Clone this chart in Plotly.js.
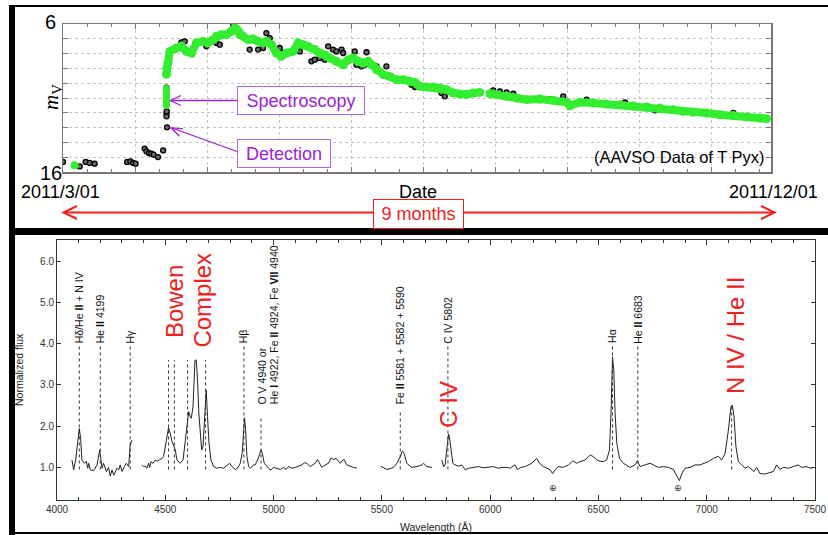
<!DOCTYPE html>
<html><head><meta charset="utf-8">
<script src="https://cdn.plot.ly/plotly-3.0.1.min.js"></script>
<style>html,body{margin:0;padding:0;background:#fff;}#chart{width:828px;height:535px;}</style>
</head><body><div id="chart"></div>
<script>
// ---------- Light curve (days since 2011/3/01, V magnitude) ----------
const lcBlackDay = [0, 6.5, 8.8, 10.4, 12.3, 24.9, 26.2, 27.2, 28.2, 31.7, 32.4, 33.4, 34.3, 35.2, 36.9, 38.9, 40.4, 40.2, 40.2, 40.3, 40.2,
  46.0, 47.3, 55.7, 59.6, 60.9, 66.1, 72.5, 75.8, 77.7, 79.0, 80.3, 84.2, 85.5, 92.0, 96.5, 97.8, 99.7, 101.7, 103.0, 104.9, 106.2, 108.2, 108.8,
  113.3, 114.0, 115.9, 117.2, 117.9, 121.8, 125.6, 135.4, 136.7, 147.0, 148.3, 167.1, 169.7, 172.3, 174.9, 185.2, 189.1, 194.3, 203.4, 216.3, 218.3, 229.9, 260.4];
const lcBlackMag = [15.32, 15.62, 15.32, 15.39, 15.44, 15.32, 15.28, 15.39, 15.44, 14.42, 14.60, 14.72, 14.76, 14.83, 14.99, 14.54, 12.98, 12.01, 12.24, 11.90, 10.30,
  7.24, 7.17, 7.51, 7.28, 7.40, 6.00, 7.73, 7.73, 7.62, 6.61, 6.95, 7.62, 7.96, 7.85, 8.52, 8.41, 8.30, 8.41, 7.51, 7.73, 7.85, 7.73, 7.96,
  7.85, 8.75, 8.86, 8.75, 7.91, 8.86, 8.86, 10.10, 10.26, 10.66, 10.89, 10.48, 10.55, 10.62, 10.71, 11.00, 11.07, 10.89, 11.11, 11.52, 11.29, 11.83, 12.01];
const lcGreenDay = [40.2, 40.3, 40.8, 41.5, 44.0, 46.0, 47.9, 49.9, 51.8, 54.4, 56.3, 58.3, 59.6, 61.5, 63.5, 65.4, 66.7, 67.6, 68.7, 69.9,
  71.9, 73.8, 75.8, 77.7, 79.0, 81.0, 82.9, 84.8, 86.8, 89.4, 91.3, 93.3, 95.2, 97.8, 99.7, 101.7, 103.6, 106.2, 108.8, 110.8,
  112.7, 114.6, 116.6, 118.5, 119.8, 121.8, 124.4, 126.9, 129.5, 132.1, 134.7, 136.7, 138.6, 141.2, 143.8, 146.4, 149.0, 151.6, 154.1, 156.7,
  159.3, 161.9, null, 165.8, 168.4, 172.3, 176.2, 180.1, 185.2, 190.4, 195.6, 196.9, 200.8, 206.0, 211.1, 216.3, 221.5, 226.7, 231.9, 237.0, 240.9,
  244.8, 250.0, 255.2, 260.4, 265.5, 270.7, 273.3];
const lcGreenMag = [9.40, 9.00, 8.60, 7.85, 7.62, 7.51, 7.85, 7.96, 7.28, 7.17, 7.28, 7.06, 6.83, 6.72, 6.72, 6.50, 6.27, 6.38, 6.72, 6.83,
  7.06, 7.01, 7.17, 7.28, 7.17, 7.40, 7.96, 8.18, 7.96, 7.85, 7.28, 7.40, 7.51, 7.73, 7.96, 8.07, 8.30, 8.52, 8.75, 8.41,
  8.30, 8.52, 8.64, 8.52, 8.75, 9.09, 9.42, 9.54, 9.76, 9.76, 9.87, 9.95, 10.21, 10.26, 10.26, 10.32, 10.44, 10.66, 10.73, 10.77,
  10.66, 10.62, null, 10.71, 10.77, 10.89, 11.00, 11.11, 11.07, 11.16, 11.29, 11.52, 11.29, 11.34, 11.41, 11.45, 11.52, 11.61, 11.68, 11.79, 11.90,
  11.97, 12.01, 12.13, 12.19, 12.28, 12.35, 12.40];
const lcSpecDay = [40.2, 40.2, 40.2, 40.2, 40.2];
const lcSpecMag = [10.35, 10.6, 10.9, 11.2, 11.5];
const lcEarlyDay = [4.5];
const lcEarlyMag = [15.55];

// ---------- Spectrum ----------
const specWave = [4069,4077,4086,4094,4103,4109,4115,4126,4135,4142,4146,4154,4169,4185,4191,4197,4203,4208,4215,4228,4238,4246,4254,4262,4277,4285,4292,4300,4311,4320,4331,4338,4346,
  null,
  4392,4400,4408,4415,4423,4428,4434,4443,4454,4462,4474,4485,4492,4500,4508,4515,4523,4531,4538,4546,4554,4562,4569,4582,4589,4597,4603,4608,4615,4620,4628,4632,4637,4643,4649,4655,4662,4668,4674,4680,4686,4689,4695,4702,4711,4723,4738,4754,4769,4785,4797,4808,4823,4834,4846,4855,4863,4866,4871,4877,4885,4892,4908,4915,4926,4935,4942,4948,4957,4977,4988,5000,5015,5031,5046,5058,5069,5085,5100,5115,5131,5142,5154,5169,5192,5203,5212,5223,5238,5254,5265,5277,5289,5300,5308,5320,5326,5338,5354,5369,5385,
  null,
  5495,5508,5523,5538,5554,5569,5585,5595,5603,5615,5638,5662,5685,5692,5708,5731,
  null,
  5777,5785,5792,5800,5808,5812,5820,5828,5838,5854,5869,5885,5900,5923,5946,5969,5992,6015,6038,6054,6077,6092,6115,6126,6142,6162,6192,6215,6228,6246,6262,6277,6288,6300,6315,6338,6362,6382,6400,6415,6438,6462,6477,6492,6508,6523,6538,6551,6558,6565,6571,6577,6585,6597,6615,6646,6669,6680,6692,6715,6738,6754,6777,6800,6823,6846,6865,6874,6885,6900,6923,6946,6969,6985,7008,7031,7054,7069,7085,7100,7112,7118,7126,7135,7146,7162,7177,7192,7208,7218,7231,7246,7269,7292,7308,7323,7338,7354,7377,7400,7423,7438,7462,7477,7500];
const specFlux = [1.18,0.94,1.18,1.58,1.94,1.70,1.18,1.10,1.15,0.98,1.10,0.94,0.92,1.06,1.26,1.42,1.18,0.98,1.10,0.90,1.00,0.79,0.94,0.81,0.98,0.94,1.06,0.90,1.02,1.10,1.02,1.54,1.66,
  null,
  1.06,1.02,1.03,0.98,1.10,1.00,1.14,1.10,1.18,1.15,1.19,1.22,1.26,1.50,1.82,1.96,1.82,1.62,1.54,1.42,1.18,1.14,1.10,1.18,1.50,1.90,2.23,2.35,2.23,2.19,2.47,3.11,3.60,3.60,3.11,2.31,1.66,1.42,1.50,2.06,2.87,2.87,2.23,1.58,1.18,1.02,0.98,1.00,0.98,1.06,1.10,1.02,0.95,0.98,1.10,1.34,2.02,2.20,1.90,1.26,1.02,0.98,1.06,1.06,1.18,1.34,1.42,1.34,1.10,0.98,0.94,1.00,0.98,0.95,1.00,0.95,1.02,0.98,1.00,1.02,1.06,1.11,1.10,1.02,1.10,1.19,1.10,1.00,1.06,1.10,1.23,1.19,1.22,1.14,1.10,1.18,1.19,1.06,1.02,1.00,0.98,
  null,
  1.03,1.00,0.95,0.97,1.00,1.10,1.26,1.40,1.34,1.10,1.00,1.02,1.06,1.10,1.02,1.00,
  null,
  1.18,1.02,1.06,1.50,1.81,1.74,1.34,1.10,1.06,1.03,1.06,0.94,0.98,1.00,1.02,0.99,1.00,1.02,0.98,1.00,1.00,0.98,1.06,0.95,1.00,1.02,1.10,1.22,1.10,1.02,0.98,0.94,0.85,0.94,1.02,1.00,1.06,1.16,1.10,1.14,1.18,1.30,1.26,1.18,1.15,1.14,1.18,1.42,2.31,3.68,3.35,2.31,1.58,1.22,1.10,1.00,1.06,1.16,1.02,1.06,1.10,1.06,1.00,1.02,1.00,0.95,0.77,0.68,0.85,0.98,1.00,1.06,1.06,1.10,1.14,1.22,1.27,1.18,1.34,1.90,2.47,2.51,2.23,1.50,1.14,1.06,0.98,1.02,0.95,0.90,1.00,0.85,0.84,0.87,0.90,1.06,0.95,1.00,0.98,1.02,1.06,1.00,1.02,0.98,1.00];

// line identifications: wavelength, top of dotted marker
const lineWave = [4103, 4200, 4338, 4515, 4542, 4603, 4686, 4863, 4942, 5585, 5805, 6565, 6682, 7115];
const lineTop  = [3.93, 3.93, 3.93, 3.60, 3.60, 3.60, 3.60, 3.93, 2.23, 2.35, 3.93, 3.93, 3.93, 2.55];
const labelText = ['Hδ/He <b>II</b> + N IV', 'He <b>II</b> 4199', 'Hγ', 'Hβ', 'O V 4940 or', 'He <b>I</b> 4922, Fe <b>II</b> 4924, Fe <b>VII</b> 4940',
  'Fe <b>II</b> 5581 + 5582 + 5590', 'C IV 5802', 'Hα', 'He <b>II</b> 6683'];
const labelWave = [4103, 4200, 4338, 4863, 4946, 5000, 5585, 5805, 6565, 6682];
const labelBase = [3.98, 3.98, 3.98, 3.98, 2.51, 2.51, 2.51, 3.98, 3.98, 3.98];
const redText = ['Bowen', 'Complex', 'C IV', 'N IV / He II'];
const redWave = [4540, 4672, 5808, 7132];
const redBase = [4.12, 3.88, 1.94, 2.75];
const telluricWave = [6292, 6869];
const telluricFlux = [0.49, 0.49];

const W = 828, H = 535;
const P = x => x / W, Q = y => 1 - y / H;
const GREEN = '#33ee2e', PURPLE = '#9a22d8', RED = '#f0201c';
const FONT = 'Liberation Sans, Arial, sans-serif';

const traces = [
  {x: lcBlackDay, y: lcBlackMag, xaxis: 'x', yaxis: 'y', mode: 'markers', type: 'scatter',
   marker: {symbol: 'circle', size: 5, color: '#6a6a6a', line: {color: '#000', width: 1.3}}},
  {x: lcGreenDay, y: lcGreenMag, xaxis: 'x', yaxis: 'y', mode: 'lines+markers', type: 'scatter',
   line: {color: GREEN, width: 8}, marker: {color: GREEN, size: 9}, connectgaps: false},
  {x: lcSpecDay, y: lcSpecMag, xaxis: 'x', yaxis: 'y', mode: 'lines+markers', type: 'scatter',
   line: {color: GREEN, width: 7}, marker: {color: GREEN, size: 7}},
  {x: lcEarlyDay, y: lcEarlyMag, xaxis: 'x', yaxis: 'y', mode: 'markers', type: 'scatter',
   marker: {color: GREEN, size: 8}},
  {x: specWave, y: specFlux, xaxis: 'x2', yaxis: 'y2', mode: 'lines', type: 'scatter',
   line: {color: '#222', width: 1}, connectgaps: false}
];

const shapes = [];
// frame pieces
shapes.push({type: 'rect', xref: 'paper', yref: 'paper', x0: P(9), x1: P(15), y0: Q(535), y1: Q(5), fillcolor: '#000', line: {width: 0}});
shapes.push({type: 'line', xref: 'paper', yref: 'paper', x0: P(9), x1: P(828), y0: Q(6), y1: Q(6), line: {color: '#000', width: 2}});
shapes.push({type: 'rect', xref: 'paper', yref: 'paper', x0: P(9), x1: P(828), y0: Q(235), y1: Q(228), fillcolor: '#000', line: {width: 0}});
shapes.push({type: 'line', xref: 'paper', yref: 'paper', x0: P(9), x1: P(828), y0: Q(533), y1: Q(533), line: {color: '#000', width: 2}});
// red double arrow
shapes.push({type: 'line', xref: 'paper', yref: 'paper', x0: P(64), x1: P(774), y0: Q(212.5), y1: Q(212.5), line: {color: RED, width: 2}});
shapes.push({type: 'path', xref: 'paper', yref: 'paper', path: `M ${P(77)} ${Q(206)} L ${P(63.5)} ${Q(212.5)} L ${P(77)} ${Q(219)}`, line: {color: RED, width: 2}});
shapes.push({type: 'path', xref: 'paper', yref: 'paper', path: `M ${P(761)} ${Q(206)} L ${P(774.5)} ${Q(212.5)} L ${P(761)} ${Q(219)}`, line: {color: RED, width: 2}});
// purple arrows
shapes.push({type: 'line', xref: 'paper', yref: 'paper', x0: P(171), x1: P(237), y0: Q(100.5), y1: Q(100.5), line: {color: PURPLE, width: 1.3}});
shapes.push({type: 'path', xref: 'paper', yref: 'paper', path: `M ${P(181)} ${Q(95.5)} L ${P(170.5)} ${Q(100.5)} L ${P(181)} ${Q(105.5)}`, line: {color: PURPLE, width: 1.3}});
shapes.push({type: 'line', xref: 'paper', yref: 'paper', x0: P(172), x1: P(237), y0: Q(128), y1: Q(151.5), line: {color: PURPLE, width: 1.3}});
shapes.push({type: 'path', xref: 'paper', yref: 'paper', path: `M ${P(179.5)} ${Q(136.2)} L ${P(171)} ${Q(127.7)} L ${P(183)} ${Q(128.8)}`, line: {color: PURPLE, width: 1.3}});
// dotted line identifications in spectrum
lineWave.forEach((w, i) => {
  shapes.push({type: 'line', xref: 'x2', yref: 'y2', x0: w, x1: w, y0: 0.95, y1: lineTop[i], line: {color: '#333', width: 1, dash: 'dot'}});
});

const annotations = [];
const A = (o) => annotations.push(Object.assign({showarrow: false, xref: 'paper', yref: 'paper', xanchor: 'center', yanchor: 'middle'}, o));
// top panel text
A({x: P(50), y: Q(22.5), text: '6', font: {family: FONT, size: 20, color: '#000'}});
A({x: P(51), y: Q(172.5), text: '16', font: {family: FONT, size: 20, color: '#000'}});
A({x: P(61), y: Q(191.5), text: '2011/3/01', font: {family: FONT, size: 18, color: '#000'}});
A({x: P(773), y: Q(191.5), text: '2011/12/01', font: {family: FONT, size: 18, color: '#000'}});
A({x: P(418), y: Q(192), text: 'Date', font: {family: FONT, size: 18, color: '#000'}});
A({x: P(767), y: Q(157), xanchor: 'right', text: '(AAVSO Data of T Pyx)', font: {family: FONT, size: 16.5, color: '#000'}});
A({x: P(52), y: Q(97), textangle: -90, text: '<i>m</i><sub>V</sub>', font: {family: 'Liberation Serif, Times New Roman, serif', size: 21, color: '#000'}});
A({x: P(300.5), y: Q(100), text: 'Spectroscopy', width: 124, height: 25, borderpad: 1, borderwidth: 1, bordercolor: '#b565e0', bgcolor: '#fff', font: {family: FONT, size: 18, color: PURPLE}});
A({x: P(283.5), y: Q(153), text: 'Detection', width: 90, height: 25, borderpad: 1, borderwidth: 1, bordercolor: '#b565e0', bgcolor: '#fff', font: {family: FONT, size: 18, color: PURPLE}});
A({x: P(418), y: Q(213.5), text: '9 months', width: 87, height: 26, borderpad: 1, borderwidth: 1, bordercolor: RED, bgcolor: '#fff', font: {family: FONT, size: 18, color: RED}});
// spectrum axis titles
A({x: P(19), y: Q(370), textangle: -90, text: 'Normalized flux', font: {family: FONT, size: 10.5, color: '#222'}});
A({x: P(436), y: Q(527), text: 'Wavelength (Å)', font: {family: FONT, size: 10.5, color: '#222'}});
// line labels
labelText.forEach((t, i) => {
  annotations.push({xref: 'x2', yref: 'y2', x: labelWave[i], y: labelBase[i], text: t, textangle: -90, showarrow: false,
    xanchor: 'center', yanchor: 'bottom', borderpad: 0, font: {family: FONT, size: 10.5, color: '#111'}});
});
redText.forEach((t, i) => {
  annotations.push({xref: 'x2', yref: 'y2', x: redWave[i], y: redBase[i], text: t, textangle: -90, showarrow: false,
    xanchor: 'center', yanchor: 'bottom', borderpad: 0, font: {family: FONT, size: 24, color: RED}});
});
telluricWave.forEach((w, i) => {
  annotations.push({xref: 'x2', yref: 'y2', x: w, y: telluricFlux[i], text: '⊕', showarrow: false, xanchor: 'center', yanchor: 'middle',
    font: {family: 'DejaVu Sans', size: 9, color: '#333'}});
});

const layout = {
  width: W, height: H, margin: {l: 0, r: 0, t: 0, b: 0}, showlegend: false,
  paper_bgcolor: '#fff', plot_bgcolor: '#fff', font: {family: FONT},
  xaxis: {domain: [P(63), P(771)], anchor: 'y', range: [0, 275], tick0: 0, dtick: 28, showticklabels: false,
    ticks: 'inside', ticklen: 5, tickcolor: '#777', showgrid: true, gridcolor: '#c4c4c4', griddash: 'dot', gridwidth: 1,
    showline: true, linecolor: '#777', linewidth: 1.5, mirror: 'allticks', zeroline: false,
    minor: {dtick: 28 / 3, tick0: 0, ticks: 'inside', ticklen: 3, tickcolor: '#777', showgrid: false}},
  yaxis: {domain: [Q(172), Q(24)], anchor: 'x', range: [16, 6], tickvals: [6, 7, 8, 9, 10, 11, 12, 13, 14, 15, 16], showticklabels: false,
    ticks: 'inside', ticklen: 5, tickcolor: '#777', showgrid: true, gridcolor: '#c4c4c4', griddash: 'dot', gridwidth: 1,
    showline: true, linecolor: '#777', linewidth: 1.5, mirror: 'allticks', zeroline: false},
  xaxis2: {domain: [P(57), P(815)], anchor: 'y2', range: [4000, 7500], tick0: 4000, dtick: 500,
    ticks: 'inside', ticklen: 5, tickcolor: '#333', tickfont: {family: FONT, size: 10, color: '#333'},
    showgrid: false, showline: true, linecolor: '#333', linewidth: 1, mirror: 'allticks', zeroline: false,
    minor: {dtick: 100, ticks: 'inside', ticklen: 3, tickcolor: '#333', showgrid: false}},
  yaxis2: {domain: [Q(500), Q(240)], anchor: 'x2', range: [0.21, 6.51], tickvals: [1, 2, 3, 4, 5, 6], tickformat: '.1f',
    ticks: 'inside', ticklen: 4, tickcolor: '#333', tickfont: {family: FONT, size: 10, color: '#333'},
    showgrid: false, showline: true, linecolor: '#333', linewidth: 1, mirror: 'allticks', zeroline: false},
  shapes: shapes, annotations: annotations
};

Plotly.newPlot('chart', traces, layout, {displayModeBar: false, staticPlot: true});
</script></body></html>
